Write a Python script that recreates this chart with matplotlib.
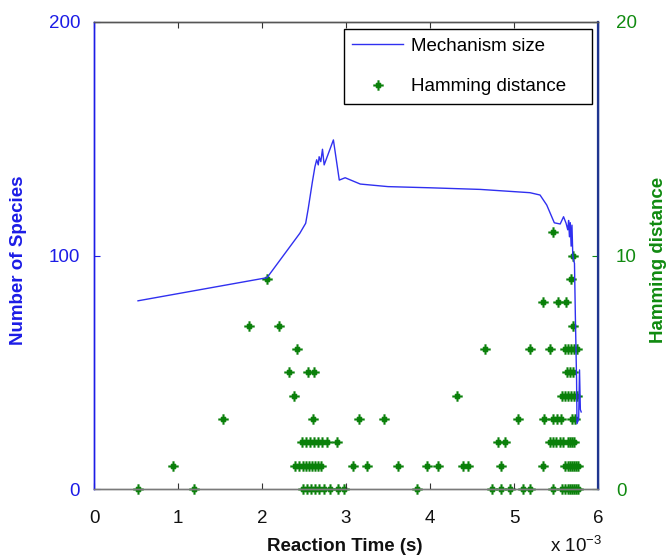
import matplotlib
matplotlib.use("Agg")
import matplotlib.pyplot as plt
from matplotlib.path import Path
import numpy as np

plt.rcParams['font.family'] = ['Liberation Sans', 'DejaVu Sans']
plt.rcParams['mathtext.fontset'] = 'custom'
plt.rcParams['mathtext.rm'] = 'Liberation Sans'
plt.rcParams['mathtext.it'] = 'Liberation Sans'

# Mechanism size (number of species) vs reaction time (x 1e-3 s)
line_t = [0.524, 2.06, 2.45, 2.52, 2.55, 2.60, 2.63, 2.651, 2.67, 2.68, 2.70, 2.72,
          2.74, 2.85, 2.92, 2.99, 3.17, 3.5, 4.0, 4.6, 5.19, 5.31, 5.39, 5.48, 5.55,
          5.59, 5.62, 5.64, 5.65, 5.66, 5.67, 5.68, 5.69, 5.70, 5.71, 5.72, 5.73,
          5.745, 5.75, 5.77, 5.78, 5.79, 5.80]
line_n = [80.6, 90.5, 109.5, 113.8, 120, 131.6, 138, 141, 138.8, 142.3, 140.2, 145.5,
          138.8, 149.5, 132.3, 133.3, 130.6, 129.5, 129, 128.3, 126.9, 125.9, 121.6, 114, 113.5,
          116.6, 113.8, 111, 115, 108, 114, 104, 113, 100, 98, 96.6, 75,
          46.7, 28, 30, 51, 34, 33]

# Hamming distance points: time values grouped by distance
ham_rows = {
    0: [0.527, 1.190, 2.488, 2.536, 2.583, 2.631, 2.679, 2.738, 2.810, 2.905, 2.976,
        3.845, 4.738, 4.845, 4.952, 5.104, 5.190, 5.464, 5.571, 5.607, 5.643, 5.667,
        5.690, 5.714, 5.738, 5.762],
    1: [0.944, 2.393, 2.440, 2.488, 2.524, 2.560, 2.595, 2.631, 2.667, 2.702, 3.083,
        3.250, 3.615, 3.964, 4.092, 4.389, 4.449, 4.845, 5.342, 5.607, 5.643, 5.667,
        5.690, 5.714, 5.738, 5.762],
    2: [2.476, 2.524, 2.571, 2.619, 2.667, 2.714, 2.774, 2.893, 4.810, 4.893, 5.429,
        5.464, 5.500, 5.548, 5.583, 5.643, 5.667, 5.690, 5.714],
    3: [1.532, 2.607, 3.155, 3.452, 5.044, 5.357, 5.464, 5.512, 5.560, 5.690, 5.726],
    4: [2.381, 4.321, 5.571, 5.607, 5.643, 5.679, 5.714, 5.750],
    5: [2.321, 2.548, 2.619, 5.631, 5.667, 5.702],
    6: [2.417, 4.655, 5.190, 5.429, 5.607, 5.643, 5.679, 5.714, 5.750],
    7: [1.842, 2.206, 5.699],
    8: [5.342, 5.524, 5.619],
    9: [2.056, 5.675],
    10: [5.702],
    11: [5.461],
}
ham_t = [t for d, ts in ham_rows.items() for t in ts]
ham_d = [d for d, ts in ham_rows.items() for t in ts]

x_ticks = [0, 1, 2, 3, 4, 5, 6]
left_ticks = [0, 100, 200]
right_ticks = [0, 10, 20]

blue = '#1c1ce6'
line_blue = '#3030f0'
green = '#108a10'
marker_green = '#0a800a'

# MATLAB-like asterisk: long plus arms, short diagonal arms
_d = 0.45
star_marker = Path(
    [(-1, 0), (1, 0), (0, -1), (0, 1), (-_d, -_d), (_d, _d), (-_d, _d), (_d, -_d)],
    [Path.MOVETO, Path.LINETO] * 4)

fig = plt.figure(figsize=(6.7, 5.56), dpi=100)
ax = fig.add_axes([94/670, (556-489)/556, 504/670, 467/556])
ax2 = ax.twinx()

ax2.plot(ham_t, ham_d, linestyle='none', marker=star_marker, markersize=7.5,
         markeredgewidth=1.5, color=marker_green, clip_on=False,
         label='Hamming distance')
ax.plot(line_t, line_n, color=line_blue, lw=1.0, label='Mechanism size')

ax.set_zorder(ax2.get_zorder() + 1)
ax.patch.set_visible(False)

ax.set_xlim(0, 6)
ax.set_ylim(0, 200)
ax2.set_ylim(0, 20)
ax.set_xticks(x_ticks)
ax.set_yticks(left_ticks)
ax2.set_yticks(right_ticks)

fs = 13.5
ax.tick_params(axis='x', direction='in', length=4, top=True, labelsize=fs, pad=15,
               colors='#333333')
ax.tick_params(axis='y', direction='in', length=4, labelsize=fs, pad=10,
               colors=blue)
ax2.tick_params(axis='y', direction='in', length=4, labelsize=fs, pad=13,
                colors=green)
ax.tick_params(axis='x', labelcolor='#111111')

for a in (ax, ax2):
    a.spines['bottom'].set_color('#7a7a7a')
    a.spines['top'].set_color('#555555')
    a.spines['left'].set_color(blue)
    a.spines['right'].set_color('#1f3590')
    for s in a.spines.values():
        s.set_linewidth(1.0)
ax2.spines['right'].set_linewidth(1.6)

ax.set_xlabel('Reaction Time (s)', fontsize=fs, fontweight='bold', color='#111111',
              va='center')
ax.xaxis.set_label_coords(0.498, -0.123)
ax.set_ylabel('Number of Species', fontsize=fs, fontweight='bold', color=blue,
              va='center', ha='center')
ax.yaxis.set_label_coords(-0.150, 0.49)
ax2.set_ylabel('Hamming distance', fontsize=fs, fontweight='bold', color=green,
               va='center', ha='center', rotation=90)
ax2.yaxis.set_label_coords(1.120, 0.49)

ax.text(0.905, -0.123, r'x 10$^{-3}$', transform=ax.transAxes, fontsize=fs,
        va='center', ha='left', color='#111111')

h1, l1 = ax.get_legend_handles_labels()
h2, l2 = ax2.get_legend_handles_labels()
leg = ax.legend(h1 + h2, l1 + l2, loc='upper left',
                bbox_to_anchor=(0.496, 0.815, 0.492, 0.17), mode='expand',
                fontsize=fs, frameon=True, fancybox=False, edgecolor='black',
                framealpha=1, handlelength=2.7, handletextpad=0.4,
                labelspacing=1.25, borderpad=0.45, borderaxespad=0, numpoints=1)
leg.get_frame().set_linewidth(1.0)

fig.savefig('out.png', dpi=100, facecolor='white')
